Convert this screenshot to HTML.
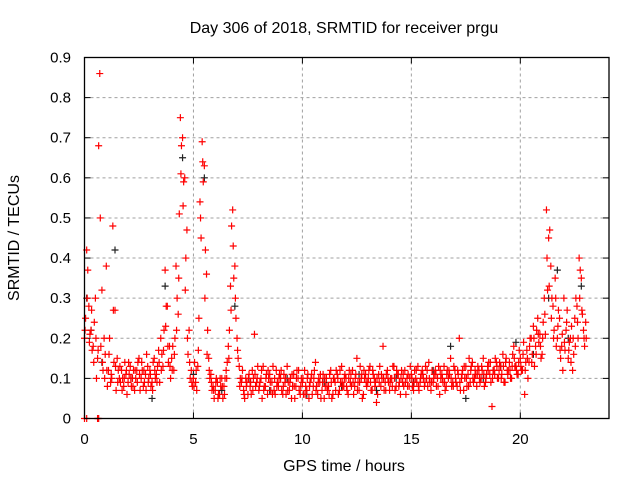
<!DOCTYPE html>
<html><head><meta charset="utf-8"><style>
html,body{margin:0;padding:0;background:#fff}
svg{display:block;font-family:"Liberation Sans",sans-serif}
</style></head><body>
<svg id="chart" width="640" height="480" viewBox="0 0 640 480">
<text x="344" y="33" text-anchor="middle" font-size="16">Day 306 of 2018, SRMTID for receiver prgu</text>
<text x="344" y="471" text-anchor="middle" font-size="16">GPS time / hours</text>
<text transform="translate(19,238) rotate(-90)" text-anchor="middle" font-size="16">SRMTID / TECUs</text>
<g id="grid"></g>
<g id="ticks"></g>
<g id="pts"></g>
<rect x="84.5" y="57.5" width="524.5" height="361" fill="none" stroke="#000" stroke-width="1.3"/>
</svg>
<script>
const xTicks=[0,5,10,15,20];
const yTicks=[0,0.1,0.2,0.3,0.4,0.5,0.6,0.7,0.8,0.9];
const redA=[0.2,0.42,0.28,0.22,0.18,0.3,0.15,0.86,0.32,0.2,
0.38,0.12,0.09,0.48,0.27,0.15,0.1,0.12,0.08,0.11,
0.09,0.13,0.1,0.07,0.12,0.15,0.1,0.08,0.11,0.13,
0.12,0.09,0.15,0.11,0.17,0.2,0.13,0.37,0.28,0.18,
0.15,0.12,0.38,0.26,0.75,0.7,0.6,0.47,0.22,0.12,
0.1,0.09,0.13,0.54,0.69,0.63,0.36,0.15,0.11,0.08,
0.07,0.09,0.06,0.1,0.08,0.12,0.18,0.33,0.52,0.38,
0.2,0.13,0.09,0.07,0.1,0.06,0.08,0.12,0.21,0.09,
0.07,0.1,0.13,0.08,0.06,0.11,0.09,0.07,0.12,0.08,
0.1,0.06,0.09,0.13,0.07,0.05,0.11,0.08,0.1,0.06,
0.09,0.12,0.07,0.05,0.1,0.08,0.14,0.06,0.09,0.07,
0.05,0.1,0.08,0.12,0.06,0.09,0.11,0.07,0.13,0.08,
0.1,0.06,0.09,0.12,0.08,0.15,0.07,0.1,0.06,0.11,
0.09,0.13,0.07,0.1,0.04,0.11,0.08,0.18,0.09,0.12,
0.07,0.1,0.13,0.08,0.11,0.06,0.09,0.12,0.1,0.08,
0.11,0.07,0.1,0.13,0.09,0.12,0.08,0.1,0.14,0.07,
0.09,0.12,0.1,0.06,0.11,0.13,0.08,0.1,0.15,0.09,
0.12,0.08,0.2,0.1,0.07,0.13,0.11,0.09,0.14,0.1,
0.08,0.12,0.1,0.15,0.09,0.13,0.11,0.03,0.12,0.14,
0.1,0.13,0.16,0.09,0.12,0.14,0.1,0.18,0.13,0.11,
0.15,0.12,0.06,0.17,0.14,0.2,0.23,0.18,0.25,0.21,
0.16,0.3,0.52,0.45,0.38,0.28,0.35,0.2,0.25,0.18,
0.3,0.22,0.15,0.2,0.12,0.25,0.28,0.4,0.35,0.22,0.24];
const redB=[0.25,0.37,0.21,0.17,0.24,0.1,0.68,0.18,0.12,0.16,
0.08,0.2,0.1,0.14,0.07,0.12,0.09,0.1,0.14,0.06,
0.11,0.08,0.12,0.1,0.14,0.07,0.12,0.09,0.16,0.1,
0.08,0.14,0.1,0.13,0.09,0.16,0.22,0.28,0.14,0.1,
0.18,0.2,0.3,0.51,0.68,0.59,0.4,0.16,0.1,0.08,
0.14,0.07,0.25,0.45,0.59,0.42,0.22,0.1,0.07,0.05,
0.1,0.06,0.08,0.05,0.1,0.14,0.22,0.48,0.35,0.25,
0.15,0.1,0.12,0.05,0.09,0.11,0.06,0.1,0.08,0.13,
0.09,0.05,0.08,0.11,0.1,0.07,0.13,0.06,0.09,0.11,
0.07,0.11,0.06,0.09,0.1,0.08,0.05,0.12,0.07,0.1,
0.06,0.08,0.11,0.09,0.06,0.12,0.08,0.1,0.05,0.11,
0.08,0.07,0.11,0.05,0.1,0.12,0.06,0.09,0.08,0.11,
0.07,0.12,0.08,0.06,0.11,0.09,0.13,0.05,0.1,0.08,
0.12,0.07,0.11,0.09,0.06,0.13,0.1,0.07,0.11,0.09,
0.1,0.13,0.07,0.11,0.09,0.12,0.08,0.06,0.11,0.13,
0.08,0.12,0.09,0.07,0.11,0.1,0.13,0.08,0.09,0.12,
0.11,0.08,0.13,0.1,0.09,0.07,0.12,0.11,0.08,0.13,
0.09,0.11,0.07,0.12,0.1,0.08,0.15,0.13,0.09,0.11,
0.13,0.09,0.12,0.08,0.11,0.14,0.09,0.12,0.15,0.1,
0.14,0.11,0.09,0.15,0.12,0.1,0.16,0.13,0.11,0.17,
0.12,0.19,0.14,0.1,0.2,0.16,0.13,0.22,0.19,0.15,
0.24,0.21,0.32,0.47,0.3,0.22,0.18,0.27,0.15,0.12,
0.17,0.27,0.19,0.23,0.16,0.3,0.2,0.37,0.26,0.18];
const redC=[0.22,0.3,0.19,0.27,0.14,0.2,0.17,0.5,0.14,0.1,
0.12,0.16,0.11,0.27,0.13,0.09,0.13,0.07,0.1,0.12,
0.14,0.1,0.08,0.12,0.09,0.11,0.14,0.12,0.07,0.09,
0.11,0.07,0.12,0.09,0.14,0.12,0.17,0.23,0.18,0.13,
0.12,0.16,0.22,0.35,0.61,0.53,0.32,0.2,0.14,0.09,
0.08,0.12,0.17,0.5,0.64,0.3,0.16,0.12,0.09,0.07,
0.09,0.05,0.1,0.08,0.06,0.1,0.15,0.27,0.43,0.3,
0.17,0.08,0.1,0.06,0.08,0.1,0.09,0.07,0.11,0.1,
0.08,0.12,0.07,0.1,0.12,0.09,0.06,0.1,0.08,0.1,
0.12,0.08,0.1,0.07,0.09,0.11,0.08,0.1,0.12,0.08,
0.1,0.06,0.1,0.08,0.11,0.1,0.07,0.09,0.11,0.09,
0.1,0.08,0.06,0.09,0.1,0.07,0.1,0.12,0.09,0.1,
0.08,0.1,0.11,0.09,0.1,0.07,0.09,0.11,0.12,0.09,
0.1,0.09,0.12,0.08,0.1,0.09,0.11,0.1,0.07,0.1,
0.09,0.08,0.1,0.12,0.08,0.1,0.11,0.09,0.08,0.1,
0.1,0.09,0.12,0.08,0.1,0.11,0.09,0.12,0.1,0.09,
0.1,0.11,0.08,0.12,0.1,0.09,0.11,0.12,0.1,0.08,
0.1,0.12,0.09,0.11,0.13,0.1,0.08,0.12,0.1,0.12,
0.11,0.1,0.13,0.11,0.1,0.12,0.14,0.1,0.11,0.13,
0.12,0.1,0.13,0.14,0.11,0.12,0.13,0.15,0.12,0.14,
0.13,0.16,0.12,0.15,0.18,0.14,0.2,0.16,0.21,0.18,
0.2,0.26,0.4,0.33,0.25,0.2,0.3,0.23,0.17,0.21,
0.19,0.24,0.17,0.14,0.2,0.18,0.24,0.3,0.27,0.2,0.2];
const blackT=[0.1,0.3,0.8,1.4,2.2,3.1,3.7,4.5,5.0,5.5,6.3,6.9,7.6,8.5,9.3,10.2,11.0,11.8,12.6,13.4,14.3,15.1,16.0,16.8,17.5,18.3,19.1,19.8,20.6,21.3,21.7,22.2,22.8];
const blackV=[0.3,0.22,0.14,0.42,0.1,0.05,0.33,0.65,0.11,0.6,0.07,0.28,0.09,0.07,0.1,0.06,0.09,0.08,0.11,0.07,0.1,0.09,0.12,0.18,0.05,0.1,0.13,0.19,0.16,0.3,0.37,0.2,0.33];
const zeroT=[0.0,0.1,0.6,0.65];
const zeroV=[0,0,0,0];

const X0=84.5,X1=609,Y0=418.5,Y1=57.5,XMAX=24.07,YMAX=0.9;
const sx=t=>X0+(X1-X0)*t/XMAX;
const sy=v=>Y0-(Y0-Y1)*v/YMAX;
const NS='http://www.w3.org/2000/svg';
function mk(tag,attrs,parent){const e=document.createElementNS(NS,tag);for(const k in attrs)e.setAttribute(k,attrs[k]);parent.appendChild(e);return e;}
const grid=document.getElementById('grid'),ticks=document.getElementById('ticks'),pts=document.getElementById('pts');
xTicks.forEach(t=>{const x=sx(t);
 if(t>0){const g=mk('line',{x1:x,x2:x,y1:Y0,y2:Y1,stroke:'#a0a0a0','stroke-dasharray':'3,3'},grid);
 
 }
 mk('line',{x1:x,x2:x,y1:Y0,y2:Y0-6,stroke:'#000'},ticks);
 mk('line',{x1:x,x2:x,y1:Y1,y2:Y1+6,stroke:'#000'},ticks);
 const l=mk('text',{x:x,y:444,'text-anchor':'middle','font-size':'15'},ticks);l.textContent=t;
 
 });
yTicks.forEach(v=>{const y=sy(v);
 if(v>0){const g=mk('line',{x1:X0,x2:X1,y1:y,y2:y,stroke:'#a0a0a0','stroke-dasharray':'3,3'},grid);
 
 }
 mk('line',{x1:X0,x2:X0+6,y1:y,y2:y,stroke:'#000'},ticks);
 mk('line',{x1:X1,x2:X1-6,y1:y,y2:y,stroke:'#000'},ticks);
 const l=mk('text',{x:71,y:y+5,'text-anchor':'end','font-size':'15'},ticks);l.textContent=v===0?'0':String(v);
 
 });
function plus(t,v,col,name){const x=sx(t),y=sy(v);
 const p=mk('path',{d:`M${x-3.5},${y}H${x+3.5}M${x},${y-3.5}V${y+3.5}`,stroke:col,'stroke-width':'1.2',fill:'none'},pts);
 
 }
blackT.forEach((t,i)=>plus(t,blackV[i],'#222','point-black'));
redA.forEach((v,i)=>plus(i/10,v,'#ff0000','point-red'));
redB.forEach((v,i)=>plus(i/10+0.05,v,'#ff0000','point-red'));
redC.forEach((v,i)=>plus(i/10+0.025,v,'#ff0000','point-red'));
zeroT.forEach((t,i)=>plus(t,zeroV[i],'#ff0000','point-zero'));
</script>
</body></html>
